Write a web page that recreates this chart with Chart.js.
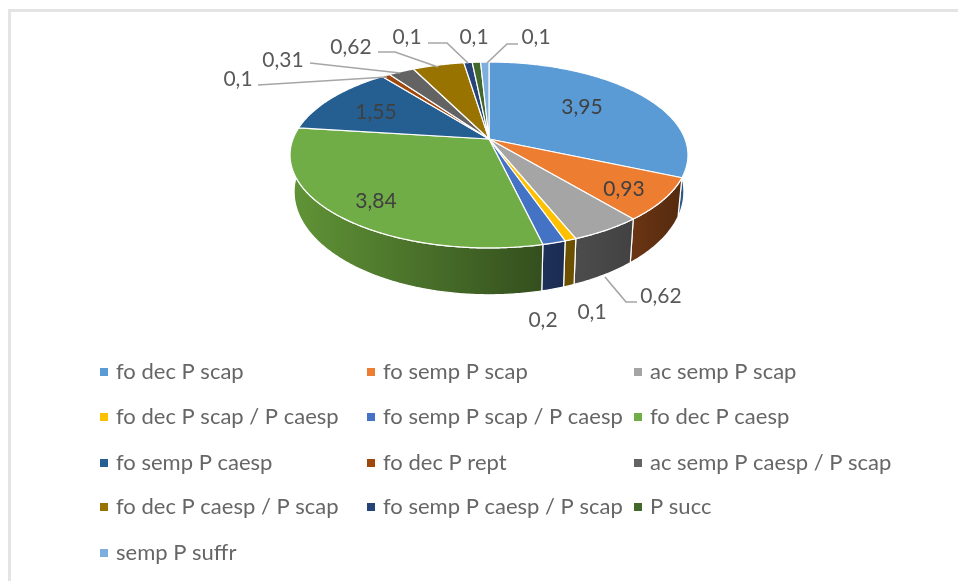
<!DOCTYPE html>
<html>
<head>
<meta charset="utf-8">
<title>Pie</title>
<script src="https://cdn.jsdelivr.net/npm/chart.js@4"></script>
<style>
  html, body { margin: 0; padding: 0; background: #fff; overflow: hidden; }
  #wrap { position: absolute; left: 0; top: 0; width: 958px; height: 581px; overflow: hidden; }
  #frame { position: absolute; left: 8px; top: 9px; width: 1000px; height: 620px; border: 3px solid #e4e4e4; box-sizing: border-box; }
  canvas { position: absolute; left: 0; top: 0; }
</style>
</head>
<body>
<div id="wrap">
  <div id="frame"></div>
  <canvas id="pie-chart" width="958" height="581"></canvas>
</div>
<script>
const categories = [
  'fo dec P scap', 'fo semp P scap', 'ac semp P scap',
  'fo dec P scap / P caesp', 'fo semp P scap / P caesp', 'fo dec P caesp',
  'fo semp P caesp', 'fo dec P rept', 'ac semp P caesp / P scap',
  'fo dec P caesp / P scap', 'fo semp P caesp / P scap', 'P succ',
  'semp P suffr'
];
const values = [3.95, 0.93, 0.62, 0.1, 0.2, 3.84, 1.55, 0.1, 0.31, 0.62, 0.1, 0.1, 0.1];

const topColors = ['#5b9bd5', '#ed7d31', '#a5a5a5', '#ffc000', '#4472c4', '#70ad47',
  '#255e91', '#9e480e', '#636363', '#997300', '#264478', '#43682b', '#7cafdd'];
// side wall colours, left end then right end of each slice
const wallColors = [
  ['#2c5a86', '#2c5a86'], ['#6a3513', '#552a0f'], ['#4c4c4c', '#424242'],
  ['#6b5000', '#6b5000'], ['#1d3059', '#1b2c52'], ['#5f9236', '#344f1e'],
  ['#1a4266', '#1a4266'], ['#6e320a', '#6e320a'], ['#454545', '#454545'],
  ['#6b5000', '#6b5000'], ['#1b3054', '#1b3054'], ['#2f491e', '#2f491e'],
  ['#57799a', '#57799a']
];

// where each value label sits, and its leader line if it has one
const labelSpots = [
  { x: 582, y: 107, inner: true }, { x: 624, y: 189, inner: true },
  { x: 661, y: 296, line: [[637, 302], [626, 302], [605, 277]] },
  { x: 592, y: 312 }, { x: 543, y: 320 },
  { x: 376, y: 201, inner: true }, { x: 376, y: 112, inner: true },
  { x: 238, y: 79, line: [[258, 85], [387, 77]] },
  { x: 283, y: 60, line: [[310, 63], [400, 73]] },
  { x: 351, y: 47, line: [[378, 52], [395, 52], [438, 67]] },
  { x: 407, y: 37, line: [[428, 43], [447, 43], [468, 63]] },
  { x: 474, y: 37 },
  { x: 536, y: 37, line: [[518, 44], [507, 44], [487, 63]] }
];

const legendColumns = [100, 367, 634];
const legendRows = [372, 417, 463, 507, 553];
const valueFont = '21px Lato';
const legendFont = '22px Lato';

// tilted disc: hub on screen, half axes and perspective strength
const disc = { hx: 489, hy: 139, a: 196, b: 90.2, k: 0.172 };
const floor = { hx: 489, hy: 174, a: 192, b: 100, k: 0.172 };

function project(p, t) {
  const w = 1 - p.k * Math.sin(t);
  return [p.hx + p.a * Math.cos(t) / w, p.hy + p.b * Math.sin(t) / w];
}

function rimPoints(p, from, to) {
  const pts = [];
  const n = Math.max(2, Math.ceil((to - from) / 0.01));
  for (let i = 0; i <= n; i++) pts.push(project(p, from + (to - from) * i / n));
  return pts;
}

function tracePath(ctx, pts) {
  ctx.beginPath();
  pts.forEach((q, i) => i ? ctx.lineTo(q[0], q[1]) : ctx.moveTo(q[0], q[1]));
}

// replaces the flat arcs with the extruded disc, angles come from the arc elements
const disc3d = {
  id: 'disc3d',
  beforeDatasetDraw(chart, args) {
    const ctx = chart.ctx;
    const arcs = chart.getDatasetMeta(args.index).data;
    ctx.save();
    ctx.lineJoin = 'round';

    // walls of the front half, back edge is hidden by the top face
    arcs.forEach((arc, i) => {
      const from = Math.max(arc.startAngle, -0.3);
      const to = Math.min(arc.endAngle, Math.PI + 0.3);
      if (to <= from) return;
      const top = rimPoints(disc, from, to);
      const low = rimPoints(floor, from, to).reverse();
      const grad = ctx.createLinearGradient(top[top.length - 1][0], 0, top[0][0], 0);
      grad.addColorStop(0, wallColors[i][0]);
      grad.addColorStop(1, wallColors[i][1]);
      tracePath(ctx, top.concat(low));
      ctx.closePath();
      ctx.fillStyle = grad;
      ctx.fill();
      ctx.strokeStyle = '#fff';
      ctx.lineWidth = 1.2;
      ctx.stroke();
    });

    // top face
    arcs.forEach((arc, i) => {
      const pts = [[disc.hx, disc.hy]].concat(rimPoints(disc, arc.startAngle, arc.endAngle));
      tracePath(ctx, pts);
      ctx.closePath();
      ctx.fillStyle = topColors[i];
      ctx.fill();
      ctx.strokeStyle = '#fff';
      ctx.lineWidth = 1.2;
      ctx.stroke();
    });
    ctx.restore();
    return false;
  },
  afterDraw(chart) {
    const ctx = chart.ctx;
    ctx.save();

    // value labels with leader lines
    ctx.font = valueFont;
    ctx.textAlign = 'center';
    ctx.textBaseline = 'middle';
    values.forEach((v, i) => {
      const spot = labelSpots[i];
      if (spot.line) {
        tracePath(ctx, spot.line);
        ctx.strokeStyle = '#a6a6a6';
        ctx.lineWidth = 1.7;
        ctx.stroke();
      }
      ctx.fillStyle = spot.inner ? '#404040' : '#595959';
      ctx.fillText(String(v).replace('.', ','), spot.x, spot.y);
    });

    // legend in three fixed columns
    ctx.font = legendFont;
    ctx.textAlign = 'left';
    categories.forEach((name, i) => {
      const x = legendColumns[i % 3];
      const y = legendRows[Math.floor(i / 3)];
      ctx.fillStyle = topColors[i];
      ctx.fillRect(x, y - 4, 8, 8);
      ctx.fillStyle = '#666666';
      ctx.fillText(name, x + 16, y);
    });
    ctx.restore();
  }
};

const ctx = document.getElementById('pie-chart').getContext('2d');
const pieChart = new Chart(ctx, {
  type: 'pie',
  data: {
    labels: categories,
    datasets: [{ data: values, backgroundColor: topColors }]
  },
  options: {
    responsive: false,
    animation: false,
    plugins: {
      legend: { display: false },
      tooltip: { enabled: false }
    }
  },
  plugins: [disc3d]
});
</script>
</body>
</html>
